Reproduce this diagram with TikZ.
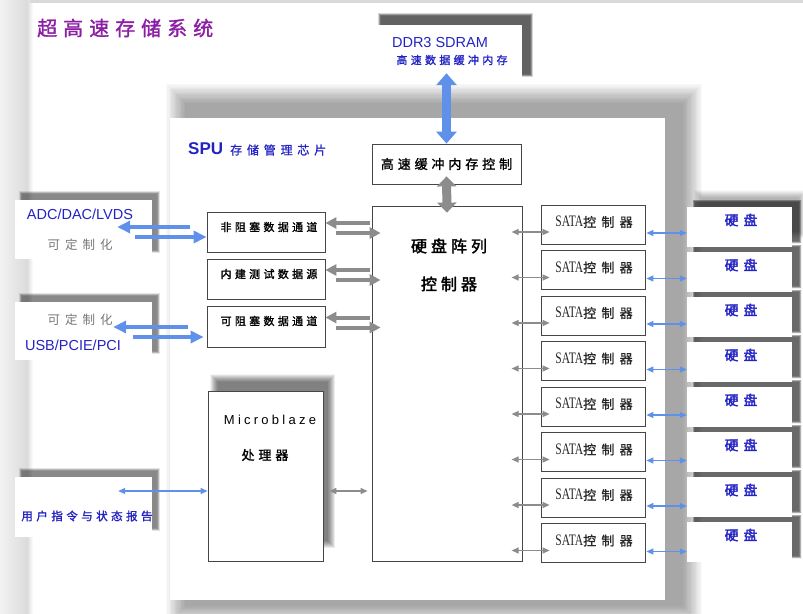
\documentclass[tikz,border=0pt]{standalone}
\usepackage{fontspec}
\setmainfont{Liberation Sans}
\newfontfamily\cjkr[LetterSpace=30]{Noto Sans CJK SC}
\newfontfamily\cjkb[LetterSpace=30,FakeBold=1.5]{Noto Sans CJK SC}
\newfontfamily\cjkt[LetterSpace=25,FakeBold=2]{Noto Sans CJK SC}
\newfontfamily\cjkw[LetterSpace=40,FakeBold=1]{Noto Sans CJK SC}
\newfontfamily\cjkwb[LetterSpace=40,FakeBold=2.5]{Noto Sans CJK SC}
\newfontfamily\cjkwr[LetterSpace=40]{Noto Sans CJK SC}
\newfontfamily\latsp[LetterSpace=25]{Liberation Sans}
\newfontfamily\narrser[FakeStretch=0.72]{Liberation Serif}
\usetikzlibrary{arrows.meta,calc}
\newcommand\fsz[1]{\fontsize{#1}{#1}\selectfont}
\definecolor{ttl}{RGB}{140,30,165}
\definecolor{tblue}{RGB}{35,35,195}
\definecolor{abl}{RGB}{95,145,235}
\definecolor{agr}{RGB}{140,140,140}
\definecolor{bord}{RGB}{70,70,70}
\definecolor{tgray}{RGB}{120,120,120}
\definecolor{tdark}{RGB}{40,40,40}
% soft shadow: x1,y1,x2,y2,blur,alpha per layer (16 layers)
\newcommand\softsh[6]{%
  \foreach \k in {0,...,15}{%
    \pgfmathsetmacro\ee{#5*(1-\k/16)}%
    \fill[black,fill opacity=#6] ({#1-\ee},{#2-\ee}) rectangle ({#3+\ee},{#4+\ee});
  }}
\begin{document}
\begin{tikzpicture}[x=1pt,y=-1pt,
  box/.style={draw=bord,line width=0.8pt,fill=white,inner sep=0pt},
  plain/.style={fill=white,inner sep=0pt},
  txt/.style={inner sep=0pt},
  gar/.style={draw=agr,line width=4pt,-{Triangle[width=11pt,length=11pt]}},
  bar/.style={draw=abl,line width=4.5pt,-{Triangle[width=12pt,length=13pt]}},
  gthin/.style={draw=agr,line width=1.2pt,{Triangle[width=6pt,length=7pt]}-{Triangle[width=6pt,length=7pt]}},
  bthin/.style={draw=abl,line width=1.2pt,{Triangle[width=6pt,length=7pt]}-{Triangle[width=6pt,length=7pt]}},
  gbig/.style={draw=agr,line width=9pt,{Triangle[width=19pt,length=10pt]}-{Triangle[width=19pt,length=10pt]}},
  bbig/.style={draw=abl,line width=9pt,{Triangle[width=20pt,length=12pt]}-{Triangle[width=20pt,length=12pt]}},
]
\useasboundingbox (0,0) rectangle (803,613);
% background panel
\fill[white] (0,0) rectangle (803,613);
\shade[left color=gray!10,right color=gray!28] (0,0) rectangle (27,613);
\shade[left color=gray!28,right color=white] (27,0) rectangle (33,613);
\fill[gray!30] (30,0) rectangle (803,2.5);

% chip
\softsh{186}{104}{682}{605}{20}{0.024}
\node[plain,minimum width=495pt,minimum height=482pt] (chip) at (417.5,359) {};
% DDR3
\softsh{381}{16}{530}{74}{3}{0.055}
\node[plain,minimum width=149pt,minimum height=58pt] (ddr) at (447.5,54) {};
% left boxes
\softsh{22}{194}{157}{250}{3}{0.035}
\softsh{22}{296}{157}{351}{3}{0.035}
\softsh{22}{471}{157}{528}{3}{0.035}
\node[plain,minimum width=137pt,minimum height=59pt] (adc) at (83.5,229.5) {};
\node[plain,minimum width=137pt,minimum height=58pt] (usb) at (83.5,331) {};
\node[plain,minimum width=137pt,minimum height=60pt] (user) at (83.5,507) {};
% microblaze
\softsh{218}{382}{327}{540}{8}{0.04}
\node[box,minimum width=115pt,minimum height=170pt] (mb) at (265.5,476) {};
% disks
\softsh{702}{198}{798}{230}{8}{0.02}
\foreach \i in {0,...,7}{
  \pgfmathsetmacro\dt{207+45*\i}
  \softsh{695}{\dt-5}{799}{\dt+34}{2.5}{0.05}
}
\foreach \i in {0,...,7}{
  \pgfmathsetmacro\dt{207+45*\i}
  \node[plain,minimum width=105pt,minimum height=40pt] (d\i) at (739.5,\dt+20) {};
  \node[txt,text=tblue] (dt\i) at (741,\dt+13) {\cjkwb\fsz{13.5}硬盘};
}
% SATA controllers
\foreach \i in {0,...,7}{
  \pgfmathsetmacro\st{205+45.5*\i}
  \node[box,minimum width=104pt,minimum height=39pt] (s\i) at (593,\st+19.5) {};
  \node[txt,text=tdark] (st\i) at ($(s\i.center)+(1,-2.5)$) {{\narrser\fsz{16}SATA}{\cjkw\fsz{13}控制器}};
}
% central boxes
\node[box,minimum width=149pt,minimum height=40pt] (cache) at (446.5,164) {\cjkb\fsz{13}高速缓冲内存控制};
\node[box,minimum width=150pt,minimum height=355pt] (ctrl) at (447,383.5) {};
\node[txt] (ctrlt1) at (449,246) {\cjkt\fsz{16}硬盘阵列};
\node[txt] (ctrlt2) at (449,284) {\cjkt\fsz{16}控制器};
\node[box,minimum width=118pt,minimum height=40pt] (ch1) at (266,232) {};
\node[box,minimum width=118pt,minimum height=40pt] (ch2) at (266,279) {};
\node[box,minimum width=118pt,minimum height=41pt] (ch3) at (266,326.5) {};
\node[txt] (ch1t) at (269,227) {\cjkb\fsz{11}非阻塞数据通道};
\node[txt] (ch2t) at (269,274) {\cjkb\fsz{11}内建测试数据源};
\node[txt] (ch3t) at (269,321) {\cjkb\fsz{11}可阻塞数据通道};
% texts
\node[txt,text=ttl,anchor=west] (title) at (37,28) {\cjkb\fsz{20}超高速存储系统};
\node[txt,text=tblue] (ddrt1) at (440,43) {\fsz{14.5}DDR3 SDRAM};
\node[txt,text=tblue] (ddrt2) at (452,60) {\cjkb\fsz{11}高速数据缓冲内存};
\node[txt,text=tblue,anchor=west] (spu) at (188,149) {\bfseries\fsz{17}SPU};
\node[txt,text=tblue,anchor=west] (spu2) at (230,150) {\cjkw\fsz{12}存储管理芯片};
\node[txt,text=tblue] (adct) at (80,214) {\fsz{14.5}ADC/DAC/LVDS};
\node[txt,text=tgray] (adcc) at (80,245) {\cjkwr\fsz{12.5}可定制化};
\node[txt,text=tgray] (usbc) at (80,320) {\cjkwr\fsz{12.5}可定制化};
\node[txt,text=tblue] (usbt) at (73,345) {\fsz{14.5}USB/PCIE/PCI};
\node[txt,text=tblue] (usert) at (87,516) {\cjkb\fsz{11.5}用户指令与状态报告};
\node[txt,text=black] (mbt1) at (270,420) {\latsp\fsz{13}Microblaze};
\node[txt,text=black] (mbt2) at (265,455) {\cjkb\fsz{13}处理器};

% big arrows
\draw[bbig] ($(cache.north |- ddr.south)+(0,-10)$) -- (cache.north);
\draw[gbig] ($(cache.south)+(0,-8)$) -- ($(ctrl.north)+(0,7)$);
% channel arrows (gray)
\foreach \c in {ch1,ch2,ch3}{
  \draw[gar] ($(ctrl.west |- \c.center)+(-2,-9)$) -- ($(\c.east)+(0,-9)$);
  \draw[gar] ($(\c.east)+(11,1)$) -- ($(ctrl.west |- \c.center)+(9,1)$);
}
% blue interface arrows
\draw[bar] ($(ch1.west)+(-17,-5)$) -- ($(adc.east)+(-35,-2.5)$);
\draw[bar] ($(adc.east)+(-17,7.5)$) -- ($(ch1.west)+(0,5)$);
\draw[bar] ($(ch3.west)+(-19,0.5)$) -- ($(usb.east)+(-39,-4)$);
\draw[bar] ($(usb.east)+(-19,6)$) -- ($(ch3.west)+(-3,10.5)$);
% user <-> microblaze
\draw[bthin] ($(user.east)+(-34,-16)$) -- ($(mb.west)+(0,15)$);
% microblaze <-> controller
\draw[gthin] ($(mb.east)+(6,15)$) -- ($(ctrl.west)+(-4,107.5)$);
% SATA links
\foreach \i in {0,...,7}{
  \draw[gthin] ($(s\i.west)+(-29,7.5)$) -- ($(s\i.west)+(9,7.5)$);
  \draw[bthin] ($(s\i.east)+(1,8.5)$) coordinate (lk\i) -- (d\i.west |- lk\i);
}
\end{tikzpicture}
\end{document}
